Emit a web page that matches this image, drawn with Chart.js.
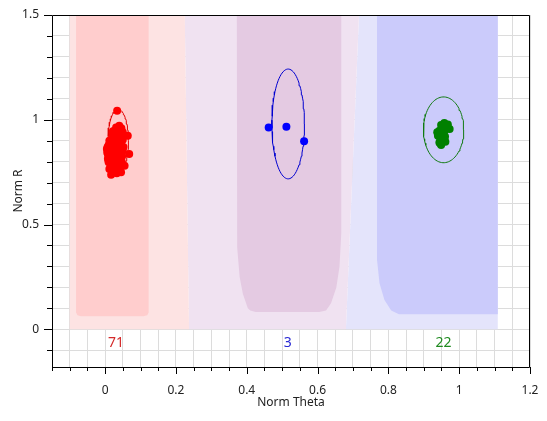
<!DOCTYPE html>
<html>
<head>
<meta charset="utf-8">
<script src="https://cdn.jsdelivr.net/npm/chart.js@4/dist/chart.umd.min.js"></script>
<style>
  html, body { margin: 0; padding: 0; background: #fff; }
</style>
</head>
<body>
<canvas id="clusterChart" width="547" height="421"></canvas>
<script>
// tick labels
const xTickLabels = ["0", "0.2", "0.4", "0.6", "0.8", "1", "1.2"];
const yTickLabels = ["0", "0.5", "1", "1.5"];

// red cluster (71 points)
const redX = [
  0.034, 0.040, 0.031, 0.064, 0.050, 0.022, 0.012, 0.031, 0.045, 0.005,
  0.017, 0.036, 0.050, 0.068, 0.006, 0.012, 0.026, 0.040, 0.010, 0.022,
  0.055, 0.036, 0.012, 0.045, 0.017, 0.028, 0.042, 0.020, 0.038, 0.025,
  0.044, 0.010, 0.030, 0.018, 0.042, 0.008, 0.030, 0.048, 0.015, 0.033,
  0.047, 0.008, 0.020, 0.028, 0.016, 0.040, 0.026, 0.033, 0.010, 0.024,
  0.036, 0.014, 0.050, 0.027, 0.035, 0.022, 0.046, 0.038, 0.020, 0.034,
  0.009, 0.024, 0.038, 0.020, 0.052, 0.007, 0.042, 0.016, 0.030, 0.044,
  0.028
];
const redY = [
  1.043, 0.971, 0.963, 0.924, 0.940, 0.932, 0.900, 0.900, 0.892, 0.860,
  0.868, 0.860, 0.852, 0.837, 0.844, 0.829, 0.821, 0.813, 0.797, 0.789,
  0.781, 0.773, 0.765, 0.749, 0.738, 0.950, 0.955, 0.915, 0.925, 0.885,
  0.875, 0.880, 0.870, 0.850, 0.842, 0.835, 0.838, 0.826, 0.812, 0.800,
  0.800, 0.815, 0.805, 0.780, 0.778, 0.790, 0.758, 0.745, 0.850, 0.860,
  0.885, 0.890, 0.905, 0.905, 0.945, 0.945, 0.960, 0.850, 0.830, 0.828,
  0.808, 0.796, 0.770, 0.770, 0.870, 0.870, 0.912, 0.862, 0.818, 0.860,
  0.930
];

// blue cluster (3 points)
const blueX = [0.462, 0.512, 0.562];
const blueY = [0.963, 0.967, 0.897];

// green cluster (22 points)
const greenX = [
  0.958, 0.968, 0.949, 0.973, 0.963, 0.938, 0.944, 0.954, 0.940, 0.949,
  0.958, 0.961, 0.944, 0.949, 0.954, 0.946, 0.958, 0.966, 0.940, 0.952,
  0.960, 0.946
];
const greenY = [
  0.985, 0.977, 0.975, 0.956, 0.956, 0.940, 0.948, 0.931, 0.924, 0.908,
  0.908, 0.895, 0.892, 0.880, 0.900, 0.888, 0.945, 0.968, 0.932, 0.960,
  0.920, 0.915
];

// cluster ellipses: centre x, centre y, radius x, radius y
const ellipseCx = [0.037, 0.517, 0.956];
const ellipseCy = [0.900, 0.980, 0.952];
const ellipseRx = [0.029, 0.046, 0.057];
const ellipseRy = [0.150, 0.262, 0.157];

// cluster counts
const countLabels = ["71", "3", "22"];
const countX = [0.031, 0.516, 0.956];
const countY = [-0.065, -0.065, -0.065];

// background regions (x, y outline)
const pinkRegion = [[-0.1, 0], [-0.1, 1.5], [0.225, 1.5], [0.237, 0]];
const purpleRegion = [[0.225, 1.5], [0.717, 1.5], [0.68, 0], [0.237, 0]];
const lightBlueRegion = [[0.717, 1.5], [1.109, 1.5], [1.109, 0], [0.68, 0]];
const redCore = [
  [-0.082, 1.5], [0.123, 1.5], [0.123, 0.08], [0.119, 0.067], [0.108, 0.062],
  [-0.068, 0.062], [-0.078, 0.067], [-0.082, 0.08]
];
const purpleCore = [
  [0.372, 1.5], [0.667, 1.5], [0.667, 0.46], [0.662, 0.30], [0.653, 0.20],
  [0.638, 0.124], [0.624, 0.09], [0.605, 0.082], [0.425, 0.082], [0.41, 0.09],
  [0.403, 0.10], [0.389, 0.17], [0.38, 0.25], [0.373, 0.39]
];
const blueCore = [
  [0.768, 1.5], [1.109, 1.5], [1.109, 0.072], [0.83, 0.072], [0.808, 0.09],
  [0.789, 0.14], [0.775, 0.22], [0.768, 0.33]
];

const FONT = "'Noto Sans', 'Open Sans', sans-serif";

function toPoints(xs, ys) {
  return xs.map((x, i) => ({ x: x, y: ys[i] }));
}

function closedShape(outline) {
  const pts = outline.map((p) => ({ x: p[0], y: p[1] }));
  pts.push({ x: outline[0][0], y: outline[0][1] });
  return pts;
}

function ellipseOutline(i) {
  const pts = [];
  for (let k = 0; k <= 90; k++) {
    const a = (k / 90) * 2 * Math.PI;
    pts.push({
      x: ellipseCx[i] + ellipseRx[i] * Math.cos(a),
      y: ellipseCy[i] + ellipseRy[i] * Math.sin(a),
    });
  }
  return pts;
}

function region(outline, color, order) {
  return {
    data: closedShape(outline),
    showLine: true,
    fill: "shape",
    backgroundColor: color,
    borderWidth: 0,
    pointRadius: 0,
    tension: 0,
    order: order,
  };
}

function ellipse(i, color) {
  return {
    data: ellipseOutline(i),
    showLine: true,
    fill: false,
    borderColor: color,
    borderWidth: 1,
    pointRadius: 0,
    tension: 0,
    order: 1,
  };
}

function cluster(xs, ys, color) {
  return {
    data: toPoints(xs, ys),
    showLine: false,
    backgroundColor: color,
    borderWidth: 0,
    pointRadius: 4,
    order: 0,
  };
}

// tick positions: minor grid every 0.05 (x) and 0.1 (y)
const xTickValues = [];
for (let k = -3; k <= 24; k++) xTickValues.push(Math.round(k * 5) / 100);
const yTickValues = [];
for (let k = -1; k <= 15; k++) yTickValues.push(Math.round(k * 10) / 100);

function labelFor(labels, value) {
  const found = labels.find((l) => Math.abs(parseFloat(l) - value) < 1e-6);
  return found === undefined ? "" : found;
}

const frameAndTicks = {
  id: "frameAndTicks",
  afterDatasetsDraw(chart) {
    const { ctx, chartArea, scales } = chart;
    const { left, right, top, bottom } = chartArea;
    ctx.save();
    ctx.strokeStyle = "#000";
    ctx.lineWidth = 1;
    ctx.beginPath();
    ctx.rect(Math.round(left) + 0.5, Math.round(top) + 0.5,
      Math.round(right - left) - 1, Math.round(bottom - top));
    ctx.stroke();

    // tick marks outside the frame
    ctx.beginPath();
    scales.x.ticks.forEach((t) => {
      const px = Math.round(scales.x.getPixelForValue(t.value)) + 0.5;
      const len = labelFor(xTickLabels, t.value) ? 7 : 4;
      ctx.moveTo(px, Math.round(bottom));
      ctx.lineTo(px, Math.round(bottom) + len);
    });
    scales.y.ticks.forEach((t) => {
      const py = Math.round(scales.y.getPixelForValue(t.value)) + 0.5;
      const len = labelFor(yTickLabels, t.value) ? 8 : 5;
      ctx.moveTo(Math.round(left), py);
      ctx.lineTo(Math.round(left) - len, py);
    });
    ctx.stroke();

    // cluster counts under the regions
    const colors = ["#d42a2a", "#2a2ad4", "#1f8a1f"];
    ctx.font = "14px " + FONT;
    ctx.textAlign = "center";
    ctx.textBaseline = "middle";
    countLabels.forEach((label, i) => {
      ctx.fillStyle = colors[i];
      ctx.fillText(label, scales.x.getPixelForValue(countX[i]),
        scales.y.getPixelForValue(countY[i]));
    });
    ctx.restore();
  },
};

new Chart(document.getElementById("clusterChart"), {
  type: "scatter",
  data: {
    datasets: [
      region(pinkRegion, "#fde3e3", 3),
      region(purpleRegion, "#f0e2f1", 3),
      region(lightBlueRegion, "#e4e4fb", 3),
      region(redCore, "#ffcdcd", 2),
      region(purpleCore, "#e4cae2", 2),
      region(blueCore, "#cbcbfb", 2),
      ellipse(0, "#e00000"),
      ellipse(1, "#0000d0"),
      ellipse(2, "#107a10"),
      cluster(redX, redY, "#ff0000"),
      cluster(blueX, blueY, "#0000ff"),
      cluster(greenX, greenY, "#008000"),
    ],
  },
  options: {
    responsive: false,
    animation: false,
    events: [],
    layout: { padding: { top: 15, right: 17, bottom: 0, left: 0 } },
    plugins: {
      legend: { display: false },
      tooltip: { enabled: false },
    },
    scales: {
      x: {
        type: "linear",
        min: -0.15,
        max: 1.2,
        afterBuildTicks: (scale) => {
          scale.ticks = xTickValues.map((v) => ({ value: v }));
        },
        afterFit: (scale) => {
          scale.height = 54;
          scale.paddingLeft = 0;
          scale.paddingRight = 0;
        },
        grid: { color: "#dcdcdc", drawTicks: false },
        border: { display: false },
        ticks: {
          padding: 16,
          color: "#222",
          font: { family: FONT, size: 12 },
          autoSkip: false,
          maxRotation: 0,
          callback: (v) => labelFor(xTickLabels, v),
        },
        title: {
          display: true,
          text: "Norm Theta",
          color: "#222",
          font: { family: FONT, size: 12 },
          padding: { top: 0, bottom: 11 },
        },
      },
      y: {
        type: "linear",
        min: -0.18,
        max: 1.5,
        afterBuildTicks: (scale) => {
          scale.ticks = yTickValues.map((v) => ({ value: v }));
        },
        afterFit: (scale) => {
          scale.width = 52;
          scale.paddingTop = 0;
          scale.paddingBottom = 0;
        },
        grid: { color: "#dcdcdc", drawTicks: false },
        border: { display: false },
        ticks: {
          padding: 13,
          color: "#222",
          font: { family: FONT, size: 12 },
          autoSkip: false,
          callback: (v) => labelFor(yTickLabels, v),
        },
        title: {
          display: true,
          text: "Norm R",
          color: "#222",
          font: { family: FONT, size: 12 },
          padding: { top: 11, bottom: 0 },
        },
      },
    },
  },
  plugins: [frameAndTicks],
});
</script>
</body>
</html>
